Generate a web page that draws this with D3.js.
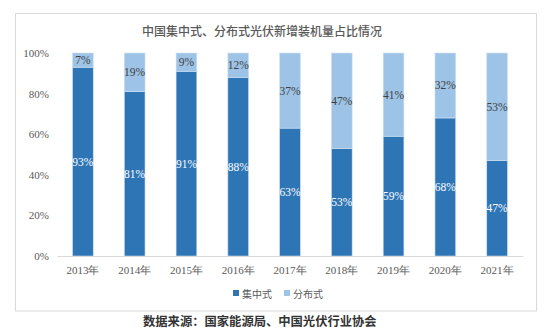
<!DOCTYPE html>
<html>
<head>
<meta charset="utf-8">
<script src="https://cdn.jsdelivr.net/npm/d3@7"></script>
<style>
  html, body { margin: 0; padding: 0; background: #fff; }
  svg { display: block; }
  .serif { font-family: "Liberation Serif", "DejaVu Serif", serif; }
  .cjk { font-family: "Noto Sans CJK SC", sans-serif; }
</style>
</head>
<body>
<svg id="chart" width="550" height="332"></svg>
<script>
// Share of new PV installations in China, by type (%)
const years = ["2013年", "2014年", "2015年", "2016年", "2017年", "2018年", "2019年", "2020年", "2021年"];
const centralized = [93, 81, 91, 88, 63, 53, 59, 68, 47];
const distributed = [7, 19, 9, 12, 37, 47, 41, 32, 53];
const seriesNames = ["集中式", "分布式"];
const yTicks = [0, 20, 40, 60, 80, 100];

const colors = ["#2E75B6", "#9DC3E6"];

const svg = d3.select("#chart");

// outer frame
svg.append("rect")
  .attr("x", 15.5).attr("y", 13.5)
  .attr("width", 521).attr("height", 297.5)
  .attr("fill", "none").attr("stroke", "#d9d9d9").attr("stroke-width", 1);

// title
svg.append("text")
  .attr("class", "cjk")
  .attr("x", 262).attr("y", 36)
  .attr("text-anchor", "middle")
  .style("font-size", "12px").style("font-weight", "500")
  .attr("fill", "#595959")
  .text("中国集中式、分布式光伏新增装机量占比情况");

const x = d3.scaleBand().domain(years).range([57, 523]).paddingInner(0.6).paddingOuter(0.3);
const y = d3.scaleLinear().domain([0, 100]).range([256, 53]);

const rows = years.map((yr, i) => ({ year: yr, c: centralized[i], d: distributed[i] }));
const layers = d3.stack().keys(["c", "d"])(rows);

const g = svg.append("g");
layers.forEach((layer, li) => {
  g.selectAll(null).data(layer).enter().append("rect")
    .attr("x", d => x(d.data.year))
    .attr("y", d => y(d[1]))
    .attr("width", x.bandwidth())
    .attr("height", d => y(d[0]) - y(d[1]))
    .attr("fill", colors[li])
    .attr("stroke", "#cfe0f2").attr("stroke-width", 0.6);
});

// value labels
layers.forEach((layer, li) => {
  g.selectAll(null).data(layer).enter().append("text")
    .attr("class", "serif")
    .attr("x", d => x(d.data.year) + x.bandwidth() / 2)
    .attr("y", d => (y(d[0]) + y(d[1])) / 2 + 4)
    .attr("text-anchor", "middle")
    .style("font-size", "11.5px")
    .attr("fill", li === 0 ? "#ffffff" : "#404040")
    .text(d => (d[1] - d[0]) + "%");
});

// y axis labels
const yAxis = d3.axisLeft(y).tickValues(yTicks).tickSize(0).tickPadding(0).tickFormat(d => d + "%");
svg.append("g").attr("transform", "translate(49,0)").call(yAxis)
  .call(s => s.select(".domain").remove())
  .selectAll("text")
  .attr("class", "serif")
  .style("font-size", "11px").attr("fill", "#595959");

// x axis
const xAxis = d3.axisBottom(x).tickSize(0).tickPadding(10);
const xg = svg.append("g").attr("transform", "translate(0,256)").call(xAxis);
xg.select(".domain").attr("stroke", "#d9d9d9");
xg.selectAll("text")
  .attr("class", "serif")
  .style("font-size", "11px").attr("fill", "#595959");

// legend
const legend = svg.append("g");
const legendX = [233, 284];
seriesNames.forEach((name, i) => {
  legend.append("rect")
    .attr("x", legendX[i]).attr("y", 290).attr("width", 6).attr("height", 6)
    .attr("fill", colors[i]);
  legend.append("text")
    .attr("class", "cjk")
    .attr("x", legendX[i] + 9).attr("y", 297.5)
    .style("font-size", "10px").attr("fill", "#595959")
    .text(name);
});

// source note
svg.append("text")
  .attr("class", "cjk")
  .attr("x", 143).attr("y", 326)
  .style("font-size", "12.3px").style("font-weight", "bold")
  .attr("fill", "#333333")
  .text("数据来源：国家能源局、中国光伏行业协会");
</script>
</body>
</html>
